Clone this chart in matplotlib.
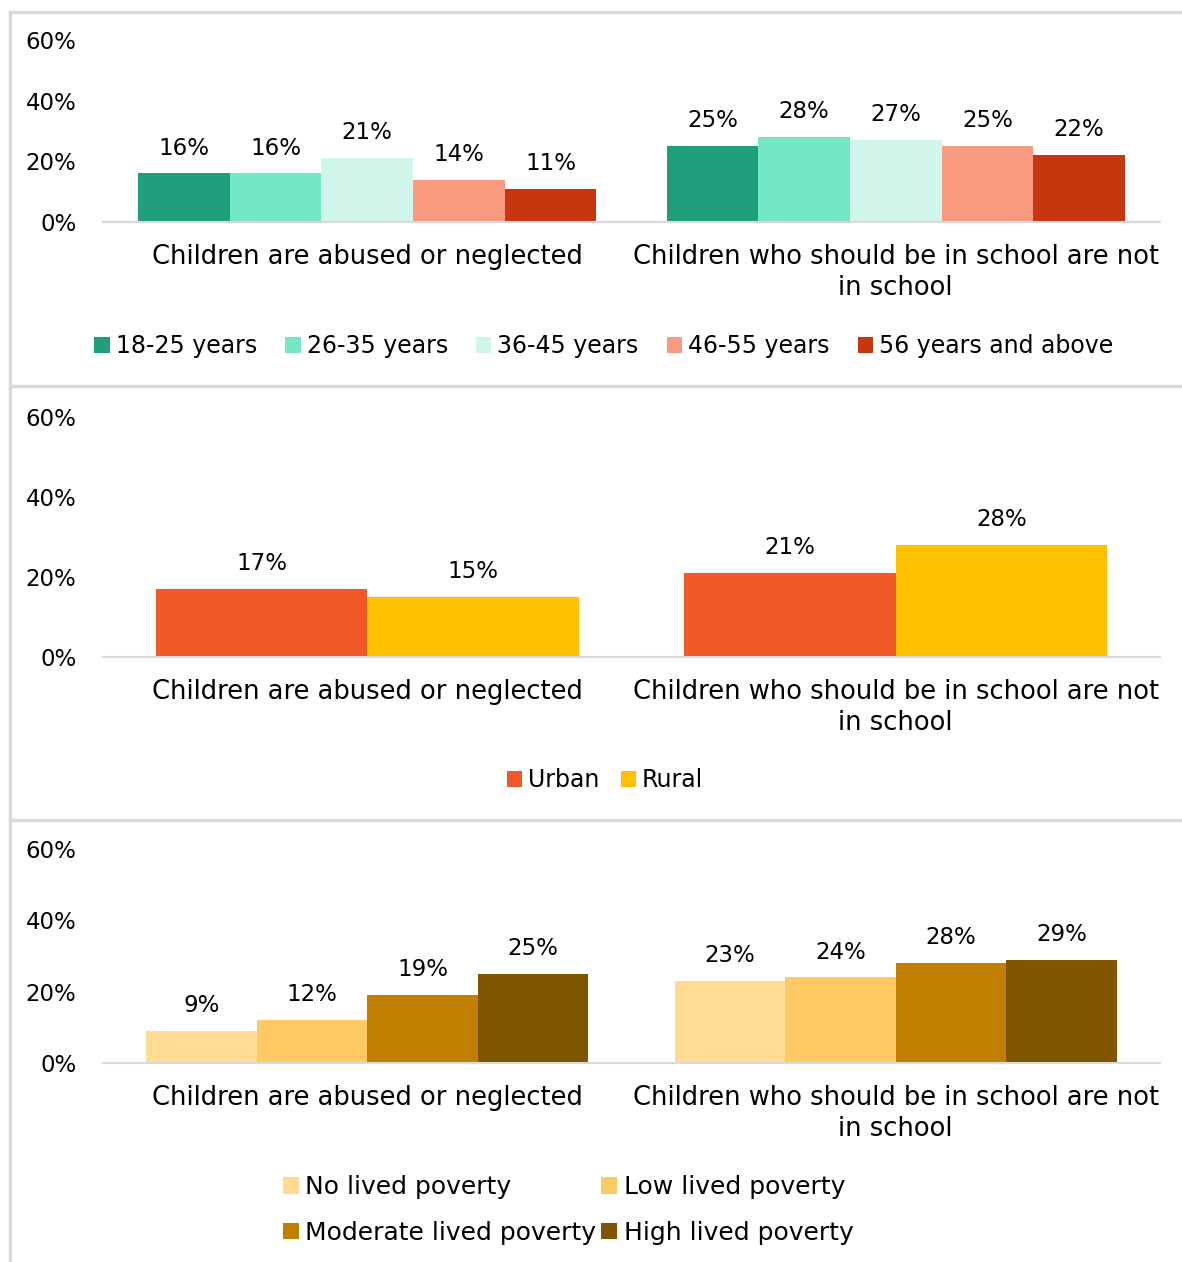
import matplotlib.pyplot as plt
from matplotlib.lines import Line2D
import numpy as np

plt.rcParams['font.family'] = ['DejaVu Sans']

categories = ['Children are abused or neglected',
              'Children who should be in school are not\nin school']

age_groups = ['18-25 years', '26-35 years', '36-45 years', '46-55 years', '56 years and above']
age_values = [[16, 25], [16, 28], [21, 27], [14, 25], [11, 22]]
age_colors = ['#1E9E7A', '#75E6C6', '#D0F5EA', '#F79A80', '#C8360F']

area_groups = ['Urban', 'Rural']
area_values = [[17, 21], [15, 28]]
area_colors = ['#F2572A', '#FFC000']

poverty_groups = ['No lived poverty', 'Low lived poverty',
                  'Moderate lived poverty', 'High lived poverty']
poverty_values = [[9, 23], [12, 24], [19, 28], [25, 29]]
poverty_colors = ['#FFDB94', '#FFC966', '#C07F00', '#7F5500']

W, H = 1182, 1262
fig = plt.figure(figsize=(W / 100, H / 100), dpi=100)


def px_axes(left, right, top, bottom):
    return fig.add_axes([left / W, 1 - bottom / H, (right - left) / W, (bottom - top) / H])


def draw_panel(ax, groups, values, colors, group_width, label_pad=10):
    n = len(groups)
    w = group_width / n
    x = np.arange(len(categories))
    for i, (name, vals, col) in enumerate(zip(groups, values, colors)):
        pos = x - group_width / 2 + w * (i + 0.5)
        bars = ax.bar(pos, np.array(vals) / 100, width=w, color=col, label=name)
        ax.bar_label(bars, labels=[f'{v}%' for v in vals], padding=label_pad,
                     fontsize=16.5, color='#000000')
    ax.set_xlim(-0.5, 1.5)
    ax.set_ylim(0, 0.6)
    ax.set_yticks([0, 0.2, 0.4, 0.6])
    ax.set_yticklabels(['0%', '20%', '40%', '60%'])
    ax.set_xticks(x)
    ax.set_xticklabels(categories, fontsize=18.5, linespacing=1.25)
    ax.tick_params(length=0, labelsize=16.5, colors='#000000')
    ax.tick_params(axis='y', pad=19)
    ax.tick_params(axis='x', pad=16, labelsize=18.5)
    for s in ['top', 'right', 'left']:
        ax.spines[s].set_visible(False)
    ax.spines['bottom'].set_color('#D9D9D9')
    ax.spines['bottom'].set_linewidth(1.5)


leg_kw = dict(loc='center', frameon=False, handlelength=0.65,
              handleheight=0.65, handletextpad=0.25)

ax1 = px_axes(103, 1160, 40, 222)
draw_panel(ax1, age_groups, age_values, age_colors, 0.867)
fig.legend(*ax1.get_legend_handles_labels(), ncol=5, fontsize=17,
           bbox_to_anchor=(604 / W, 1 - 346 / H), columnspacing=1.2, **leg_kw)

ax2 = px_axes(103, 1160, 417, 657)
draw_panel(ax2, area_groups, area_values, area_colors, 0.8)
fig.legend(*ax2.get_legend_handles_labels(), ncol=2, fontsize=17,
           bbox_to_anchor=(605 / W, 1 - 780 / H), columnspacing=0.9, **leg_kw)

ax3 = px_axes(103, 1160, 849, 1063)
draw_panel(ax3, poverty_groups, poverty_values, poverty_colors, 0.836)
h, l = ax3.get_legend_handles_labels()
order = [0, 2, 1, 3]
fig.legend([h[i] for i in order], [l[i] for i in order], ncol=2, fontsize=18,
           bbox_to_anchor=(568 / W, 1 - 1210 / H), columnspacing=0.2,
           labelspacing=0.85, **leg_kw)

# panel frames
grey = '#D9D9D9'
for y in [12, 386, 820]:
    fig.add_artist(Line2D([10 / W, 1], [1 - y / H, 1 - y / H], color=grey, lw=2.5))
fig.add_artist(Line2D([10 / W, 10 / W], [0, 1 - 12 / H], color=grey, lw=2.5))

fig.savefig('out.png', dpi=100, facecolor='white')
